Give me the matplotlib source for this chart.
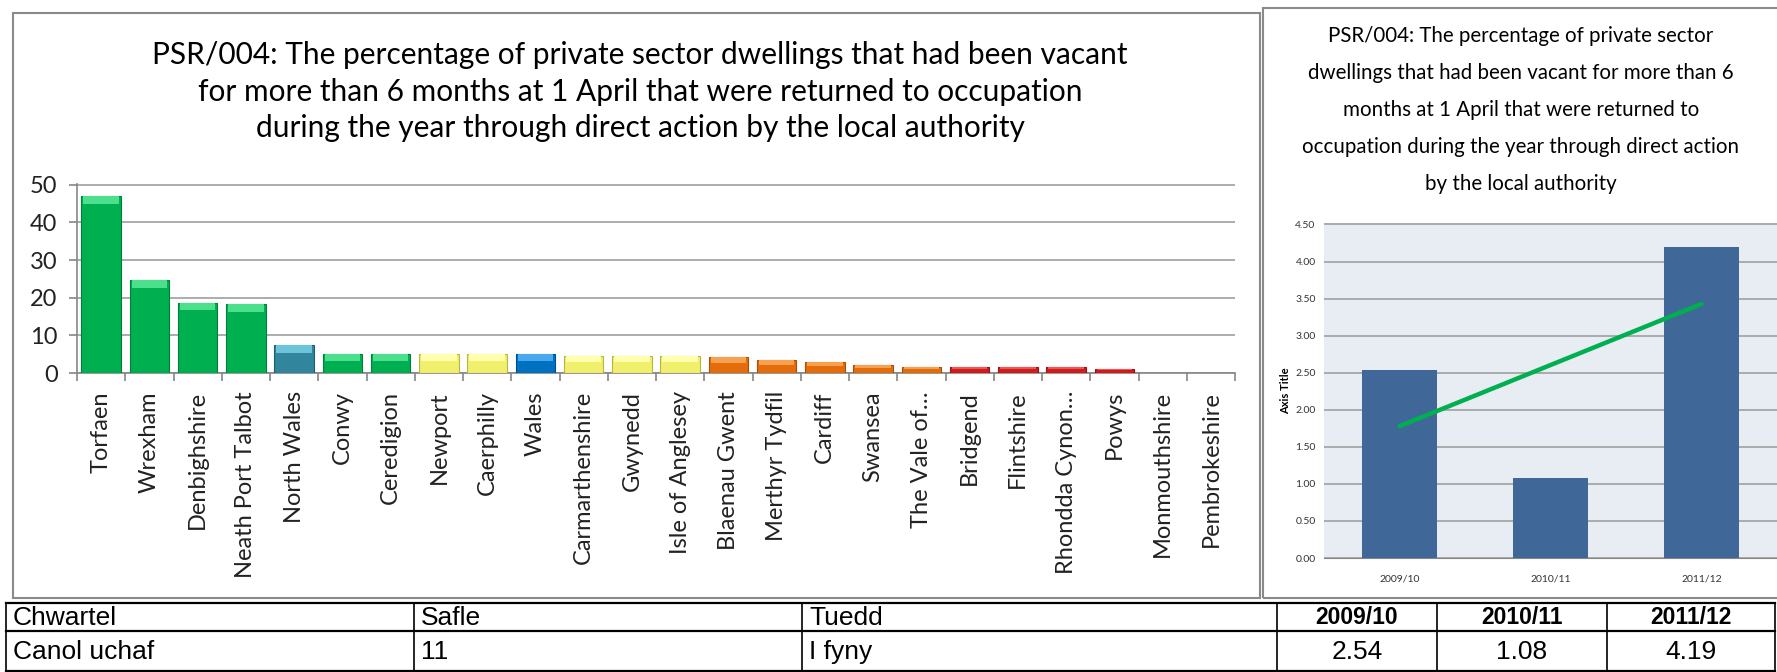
import numpy as np
import matplotlib.pyplot as plt
from matplotlib import font_manager
from matplotlib.patches import Rectangle
from matplotlib.lines import Line2D
from matplotlib.ticker import FormatStrFormatter

plt.rcParams['font.family'] = ['Lato', 'DejaVu Sans']

# ---- left chart: authorities ranked by PSR/004, 2011/12
authorities = ['Torfaen', 'Wrexham', 'Denbighshire', 'Neath Port Talbot', 'North Wales',
               'Conwy', 'Ceredigion', 'Newport', 'Caerphilly', 'Wales', 'Carmarthenshire',
               'Gwynedd', 'Isle of Anglesey', 'Blaenau Gwent', 'Merthyr Tydfil', 'Cardiff',
               'Swansea', 'The Vale of\u2026', 'Bridgend', 'Flintshire', 'Rhondda Cynon\u2026',
               'Powys', 'Monmouthshire', 'Pembrokeshire']
pct = [47.0, 24.6, 18.7, 18.3, 7.4, 5.0, 5.0, 5.0, 5.0, 5.0, 4.6, 4.6, 4.6,
       4.2, 3.5, 2.9, 2.2, 1.5, 1.5, 1.5, 1.5, 1.1, 0.0, 0.0]
quartile = ['top', 'top', 'top', 'top', 'region', 'top', 'top', 'upper', 'upper', 'wales',
            'upper', 'upper', 'upper', 'lower', 'lower', 'lower', 'lower', 'lower',
            'bottom', 'bottom', 'bottom', 'bottom', 'bottom', 'bottom']

# ---- right chart: trend for this authority
years = ['2009/10', '2010/11', '2011/12']
trend_vals = [2.54, 1.08, 4.19]

# ---- table under the charts
table_head = ['Chwartel', 'Safle', 'Tuedd']
table_row = ['Canol uchaf', '11', 'I fyny']

fill = {'top': '#00B050', 'region': '#31859C', 'wales': '#0070C0',
        'upper': '#F0F06A', 'lower': '#E46C0A', 'bottom': '#D01C1C'}
light = {'top': '#4DE08C', 'region': '#6CC4DA', 'wales': '#4AA8EE',
         'upper': '#FFFFAE', 'lower': '#F6A050', 'bottom': '#EE5555'}
edge = {'top': '#00803A', 'region': '#1F5E70', 'wales': '#004F8A',
        'upper': '#B5B548', 'lower': '#A84F06', 'bottom': '#961010'}

W, H = 1777, 672
fig = plt.figure(figsize=(W / 100, H / 100), dpi=100)
fig.patch.set_facecolor('white')


def fbox(x0, y0, x1, y1):
    # pixel box (top-left origin) -> figure fraction rect
    return [x0 / W, 1 - y1 / H, (x1 - x0) / W, (y1 - y0) / H]


# ================= left chart
ax = fig.add_axes(fbox(77, 184, 1235, 373))
x = np.arange(len(pct))
vals = np.array(pct)
lw = [0.8 if v > 0 else 0 for v in pct]
ax.bar(x, vals, width=0.82, color=[fill[q] for q in quartile],
       edgecolor=[edge[q] for q in quartile], linewidth=lw, zorder=3)
bev = np.minimum(2.0, 0.38 * vals)
ax.bar(x, bev, bottom=vals - bev, width=0.74, color=[light[q] for q in quartile],
       linewidth=0, zorder=4)

ax.set_xlim(-0.5, len(pct) - 0.5)
ax.set_ylim(0, 50.2)
ax.set_yticks(np.arange(0, 51, 10))
ax.yaxis.grid(True, color='#A6A6A6', lw=1.3, zorder=0)
ax.set_axisbelow(True)
for s in ['top', 'right']:
    ax.spines[s].set_visible(False)
for s in ['left', 'bottom']:
    ax.spines[s].set_color('#868686')
    ax.spines[s].set_linewidth(1.2)
ax.set_xticks(x)
ax.set_xticklabels(authorities, rotation=90, fontsize=17, color='#222222')
ax.set_xticks(np.arange(-0.5, len(pct), 1), minor=True)
ax.tick_params(axis='x', which='major', length=0, pad=13)
ax.tick_params(axis='x', which='minor', length=6, color='#868686', width=1.2)
ax.tick_params(axis='y', length=6, color='#868686', width=1.2, pad=8,
               labelsize=17, labelcolor='#222222')

left_title = ['PSR/004: The percentage of private sector dwellings that had been vacant',
              'for more than 6 months at 1 April that were returned to occupation',
              'during the year through direct action by the local authority']
for i, line in enumerate(left_title):
    fig.text(640 / W, 1 - (55 + 36.5 * i) / H, line, ha='center', va='center',
             fontsize=21.5, color='black')

fig.add_artist(Rectangle((13 / W, 1 - 598 / H), (1260 - 13) / W, (598 - 13) / H,
                         transform=fig.transFigure, fill=False,
                         edgecolor='#8A8A8A', lw=1.5))

# ================= right chart
ax2 = fig.add_axes(fbox(1324, 223, 1777, 558))
ax2.set_facecolor('#E8ECF3')
x2 = np.arange(len(years))
ax2.bar(x2, trend_vals, width=0.5, color='#3F6797', zorder=3)
coef = np.polyfit(x2, trend_vals, 1)
ax2.plot(x2, np.polyval(coef, x2), color='#00B050', lw=3.2,
         solid_capstyle='round', zorder=4)
ax2.set_xlim(-0.5, 2.5)
ax2.set_ylim(0, 4.52)
ax2.set_yticks(np.arange(0, 4.51, 0.5))
ax2.yaxis.set_major_formatter(FormatStrFormatter('%.2f'))
ax2.yaxis.grid(True, color='#A0A0A0', lw=1.2, zorder=0)
ax2.set_axisbelow(True)
for s in ['top', 'right', 'left']:
    ax2.spines[s].set_visible(False)
ax2.spines['bottom'].set_color('#868686')
ax2.set_xticks(x2)
ax2.set_xticklabels(years)
ax2.tick_params(axis='x', length=0, pad=12, labelsize=7.5, labelcolor='#333333')
ax2.tick_params(axis='y', length=0, pad=6, labelsize=7.5, labelcolor='#333333')
ax2.set_ylabel('Axis Title', fontsize=8, fontweight='bold', labelpad=3)

right_title = ['PSR/004: The percentage of private sector',
               'dwellings that had been vacant for more than 6',
               'months at 1 April that were returned to',
               'occupation during the year through direct action',
               'by the local authority']
for i, line in enumerate(right_title):
    fig.text(1521 / W, 1 - (36 + 37 * i) / H, line, ha='center', va='center',
             fontsize=14.8, color='black')

fig.add_artist(Rectangle((1263 / W, 1 - 598 / H), (1800 - 1263) / W, (598 - 8) / H,
                         transform=fig.transFigure, fill=False,
                         edgecolor='#8A8A8A', lw=1.5))

# ================= table (Arial Narrow look if a narrow face is installed)
try:
    font_manager.findfont('Liberation Sans Narrow', fallback_to_default=False)
    tfont, tsize, ysize = ['Liberation Sans Narrow', 'DejaVu Sans'], 21, 20
except Exception:
    tfont, tsize, ysize = ['Liberation Sans', 'DejaVu Sans'], 19, 16.5

col_x = [6, 414, 802, 1277, 1437, 1607, 1775]
row_y = [603, 631, 671]
for yy in row_y:
    fig.add_artist(Line2D([col_x[0] / W, col_x[-1] / W], [1 - yy / H] * 2,
                          transform=fig.transFigure, color='black', lw=1.6))
for xx in col_x:
    fig.add_artist(Line2D([xx / W] * 2, [1 - row_y[0] / H, 1 - row_y[-1] / H],
                          transform=fig.transFigure, color='black', lw=1.2))

for j, txt in enumerate(table_head):
    fig.text((col_x[j] + 7) / W, 1 - 618 / H, txt, ha='left', va='center',
             fontsize=tsize, family=tfont)
for j, txt in enumerate(table_row):
    fig.text((col_x[j] + 7) / W, 1 - 652 / H, txt, ha='left', va='center',
             fontsize=tsize, family=tfont)
for j, (yr, v) in enumerate(zip(years, trend_vals)):
    cx = (col_x[3 + j] + col_x[4 + j]) / 2
    fig.text(cx / W, 1 - 618 / H, yr, ha='center', va='center',
             fontsize=ysize, fontweight='bold', family=tfont)
    fig.text(cx / W, 1 - 652 / H, f'{v:.2f}', ha='center', va='center',
             fontsize=tsize, family=tfont)

fig.savefig('out.png', dpi=100)
